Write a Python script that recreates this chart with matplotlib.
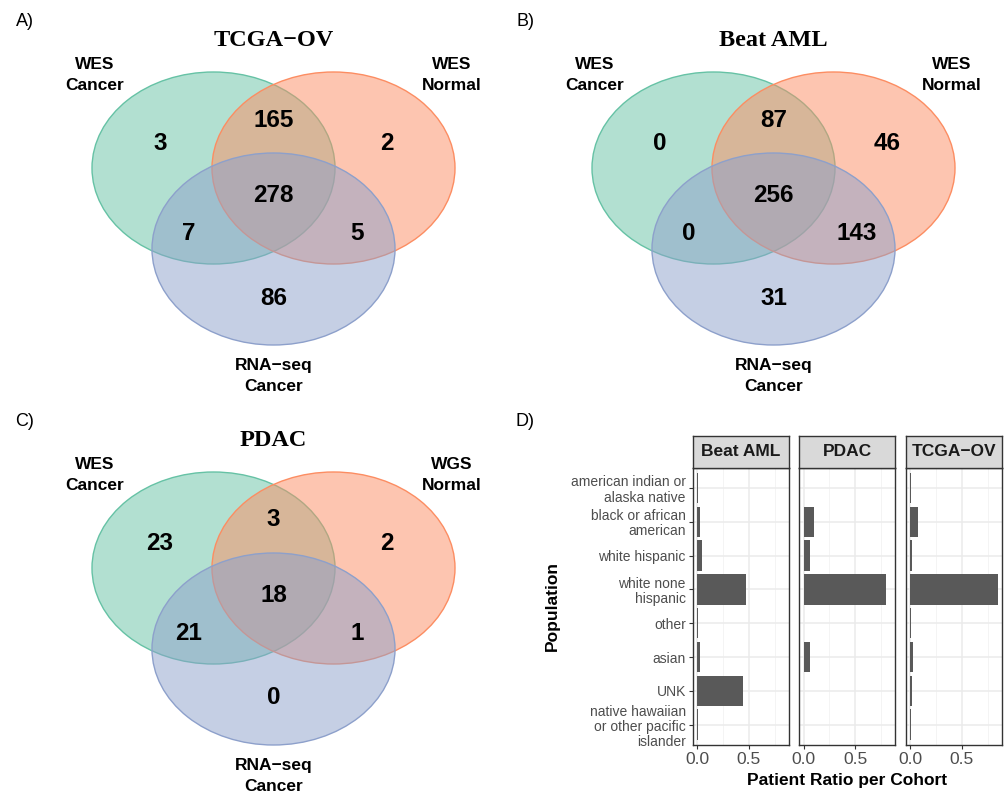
import matplotlib
matplotlib.use("Agg")
import matplotlib.pyplot as plt
from matplotlib.patches import Ellipse

SANS = ["Liberation Sans", "DejaVu Sans"]
SERIF = ["Liberation Serif", "DejaVu Serif"]

# venn counts: only A, AB, only B, ABC, AC, BC, only C
tcga_counts = [3, 165, 2, 278, 7, 5, 86]
beat_counts = [0, 87, 46, 256, 0, 143, 31]
pdac_counts = [23, 3, 2, 18, 21, 1, 0]

tcga_sets = ["WES\nCancer", "WES\nNormal", "RNA\u2212seq\nCancer"]
beat_sets = ["WES\nCancer", "WES\nNormal", "RNA\u2212seq\nCancer"]
pdac_sets = ["WES\nCancer", "WGS\nNormal", "RNA\u2212seq\nCancer"]

# panel D data
categories = ["american indian or\nalaska native", "black or african\namerican",
              "white hispanic", "white none\nhispanic", "other", "asian", "UNK",
              "native hawaiian\nor other pacific\nislander"]
cohorts = ["Beat AML", "PDAC", "TCGA\u2212OV"]
beat_ratio = [0.006, 0.032, 0.05, 0.475, 0.006, 0.032, 0.446, 0.006]
pdac_ratio = [0.006, 0.104, 0.057, 0.80, 0.006, 0.057, 0.006, 0.006]
tcga_ratio = [0.006, 0.074, 0.017, 0.847, 0.006, 0.026, 0.017, 0.006]

W, H = 1007, 797
fig = plt.figure(figsize=(W / 100, H / 100), dpi=100)
base = fig.add_axes([0, 0, 1, 1])
base.set_xlim(0, W)
base.set_ylim(H, 0)
base.axis("off")

colors = ["#66C2A5", "#FC8D62", "#8DA0CB"]


def draw_venn(ax, ox, oy, counts, sets, title):
    # oy is the center line of the two upper ellipses
    centers = [(ox - 60, oy), (ox + 60, oy), (ox, oy + 81)]
    for (cx, cy), c in zip(centers, colors):
        ax.add_patch(Ellipse((cx, cy), 243, 192, facecolor=c, alpha=0.5,
                             edgecolor="none"))
        ax.add_patch(Ellipse((cx, cy), 243, 192, facecolor="none",
                             edgecolor=c, lw=1.0))
    offs = [(-113.5, -25), (0, -48), (113.5, -25), (0, 27),
            (-84.5, 65), (83.5, 65), (0, 130)]
    for n, (dx, dy) in zip(counts, offs):
        ax.text(ox + dx, oy + dy, str(n), ha="center", va="center",
                fontsize=17.5, fontweight="bold", family=SANS)
    lpos = [(-178.5, -93), (178.5, -93), (0, 208)]
    for s, (dx, dy) in zip(sets, lpos):
        ax.text(ox + dx, oy + dy, s, ha="center", va="center", fontsize=12.5,
                fontweight="bold", family=SANS, linespacing=1.5)
    ax.text(ox, oy - 128, title, ha="center", va="center", fontsize=17.5,
            fontweight="bold", family=SERIF)


draw_venn(base, 273.5, 168, tcga_counts, tcga_sets, "TCGA\u2212OV")
draw_venn(base, 773.5, 168, beat_counts, beat_sets, "Beat AML")
draw_venn(base, 273.5, 568, pdac_counts, pdac_sets, "PDAC")

for lab, x, y in [("A)", 25, 21), ("B)", 525, 21), ("C)", 25, 421), ("D)", 525, 421)]:
    base.text(x, y, lab, ha="center", va="center", fontsize=13, family=SANS)

# panel D facets
panels_x = [(692.7, 789.3), (799.3, 895.3), (905.7, 1002.3)]
ptop, pbot, stop = 467.7, 745, 436
ratios = [beat_ratio, pdac_ratio, tcga_ratio]
xmax = max(max(r) for r in ratios)
ypos = list(range(len(categories)))

for i, ((x0, x1), name, vals) in enumerate(zip(panels_x, cohorts, ratios)):
    ax = fig.add_axes([x0 / W, 1 - pbot / H, (x1 - x0) / W, (pbot - ptop) / H])
    ax.set_facecolor("white")
    ax.barh(ypos, vals, height=0.9, color="#595959", zorder=3)
    ax.set_xlim(-0.05 * xmax, 1.05 * xmax)
    ax.set_ylim(len(categories) - 0.4, -0.6)
    ax.set_xticks([0, 0.5])
    ax.set_xticklabels(["0.0", "0.5"])
    ax.set_xticks([0.25, 0.75], minor=True)
    ax.grid(True, which="major", color="#ebebeb", lw=1.1, zorder=0)
    ax.grid(True, which="minor", axis="x", color="#f2f2f2", lw=0.6, zorder=0)
    ax.set_yticks(ypos)
    ax.tick_params(axis="x", labelsize=12.5, labelcolor="#4d4d4d", length=3,
                   color="#333333", pad=2)
    ax.tick_params(which="minor", length=0)
    if i == 0:
        ax.set_yticklabels(categories, fontsize=10, color="#4d4d4d", family=SANS,
                           linespacing=1.1)
        ax.tick_params(axis="y", length=3, color="#333333", pad=2)
    else:
        ax.set_yticklabels([])
        ax.tick_params(axis="y", length=0)
    for lbl in ax.get_xticklabels():
        lbl.set_family(SANS)
    for sp in ax.spines.values():
        sp.set_color("#333333")
        sp.set_linewidth(1.0)
    sax = fig.add_axes([x0 / W, 1 - ptop / H, (x1 - x0) / W, (ptop - stop) / H])
    sax.set_facecolor("#d9d9d9")
    sax.set_xticks([])
    sax.set_yticks([])
    for sp in sax.spines.values():
        sp.set_color("#333333")
        sp.set_linewidth(1.0)
    sax.text(0.5, 0.5, name, ha="center", va="center", fontsize=12.5,
             fontweight="bold", family=SANS, color="#1a1a1a",
             transform=sax.transAxes)

fig.text(552 / W, 1 - 606 / H, "Population", rotation=90, ha="center",
         va="center", fontsize=12.5, fontweight="bold", family=SANS)
fig.text(847 / W, 1 - 780 / H, "Patient Ratio per Cohort", ha="center",
         va="center", fontsize=12.5, fontweight="bold", family=SANS)

fig.savefig("out.png", dpi=100)
